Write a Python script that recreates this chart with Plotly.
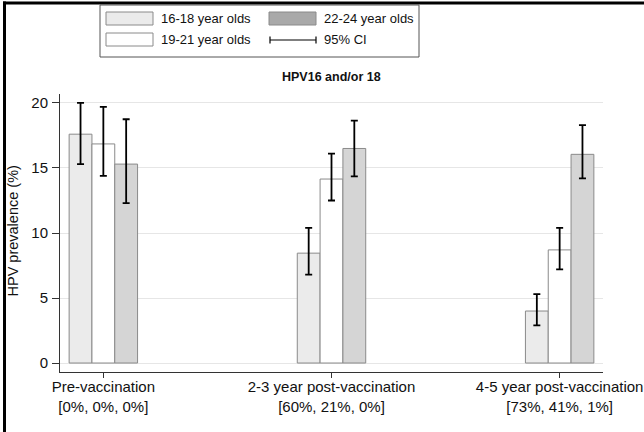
import plotly.graph_objects as go

# ---- data ----
periods = ["Pre-vaccination", "2-3 year post-vaccination", "4-5 year post-vaccination"]
coverage = ["[0%, 0%, 0%]", "[60%, 21%, 0%]", "[73%, 41%, 1%]"]
series_names = ["16-18 year olds", "19-21 year olds", "22-24 year olds"]

prev_16_18 = [17.6, 8.45, 4.0]
lo_16_18 = [15.3, 6.8, 2.9]
hi_16_18 = [20.0, 10.4, 5.3]

prev_19_21 = [16.85, 14.15, 8.7]
lo_19_21 = [14.4, 12.5, 7.2]
hi_19_21 = [19.7, 16.1, 10.4]

prev_22_24 = [15.3, 16.5, 16.05]
lo_22_24 = [12.3, 14.35, 14.2]
hi_22_24 = [18.75, 18.65, 18.3]

y_ticks = [0, 5, 10, 15, 20]

# ---- styling ----
FONT = "Liberation Sans, Arial, sans-serif"
fills = ["#ebebeb", "#ffffff", "#d5d5d5"]
legend_fills = ["#ebebeb", "#ffffff", "#a9a9a9"]
outline = "#8a8a8a"

W, H = 644, 432
L, R, T, B = 60, 603, 94, 372

def px(x):
    return (x - L) / (R - L)

def py(y):
    return (B - y) / (B - T)

categories = [f"{p}<br>{c}" for p, c in zip(periods, coverage)]

fig = go.Figure()
for name, vals, lo, hi, col in [
    (series_names[0], prev_16_18, lo_16_18, hi_16_18, fills[0]),
    (series_names[1], prev_19_21, lo_19_21, hi_19_21, fills[1]),
    (series_names[2], prev_22_24, lo_22_24, hi_22_24, fills[2]),
]:
    fig.add_trace(go.Bar(
        name=name, x=categories, y=vals,
        marker=dict(color=col, line=dict(color=outline, width=1)),
        error_y=dict(type="data", symmetric=False,
                     array=[h - v for h, v in zip(hi, vals)],
                     arrayminus=[v - l for v, l in zip(vals, lo)],
                     color="black", thickness=1.8, width=3.5),
        showlegend=False,
    ))

shapes = []
annotations = []

# outer frame (top and left)
shapes.append(dict(type="line", xref="paper", yref="paper",
                   x0=px(3), x1=px(W), y0=py(3), y1=py(3),
                   line=dict(color="black", width=3)))
shapes.append(dict(type="line", xref="paper", yref="paper",
                   x0=px(4.5), x1=px(4.5), y0=py(1.5), y1=py(H),
                   line=dict(color="black", width=3)))

# legend box
shapes.append(dict(type="rect", xref="paper", yref="paper",
                   x0=px(100), x1=px(419), y0=py(5), y1=py(57),
                   line=dict(color="#555555", width=1), fillcolor="white"))
leg_items = [
    (106, 12, legend_fills[0], series_names[0]),
    (106, 33, legend_fills[1], series_names[1]),
    (269, 12, legend_fills[2], series_names[2]),
]
for x0, y0, col, txt in leg_items:
    shapes.append(dict(type="rect", xref="paper", yref="paper",
                       x0=px(x0), x1=px(x0 + 47), y0=py(y0), y1=py(y0 + 13),
                       line=dict(color=outline, width=1), fillcolor=col))
    annotations.append(dict(xref="paper", yref="paper", x=px(x0 + 53), y=py(y0 + 6.5),
                            text=txt, showarrow=False, xanchor="left", yanchor="middle",
                            font=dict(family=FONT, size=13, color="#111")))
# CI legend symbol
shapes.append(dict(type="line", xref="paper", yref="paper",
                   x0=px(270), x1=px(316), y0=py(40), y1=py(40),
                   line=dict(color="black", width=1.2)))
for xx in (270, 316):
    shapes.append(dict(type="line", xref="paper", yref="paper",
                       x0=px(xx), x1=px(xx), y0=py(36.5), y1=py(43.5),
                       line=dict(color="black", width=1.2)))
annotations.append(dict(xref="paper", yref="paper", x=px(322), y=py(39.5),
                        text="95% CI", showarrow=False, xanchor="left", yanchor="middle",
                        font=dict(family=FONT, size=13, color="#111")))

# title
annotations.append(dict(xref="paper", yref="paper", x=px(331), y=py(77),
                        text="<b>HPV16 and/or 18</b>", showarrow=False,
                        xanchor="center", yanchor="middle",
                        font=dict(family=FONT, size=12.5, color="#111")))

# y-axis title
annotations.append(dict(xref="paper", yref="paper", x=px(12.5), y=py(231),
                        text="HPV prevalence (%)", showarrow=False, textangle=-90,
                        xanchor="center", yanchor="middle",
                        font=dict(family=FONT, size=14.5, color="#111")))

fig.update_layout(
    width=W, height=H,
    margin=dict(l=L, r=W - R, t=T, b=H - B, pad=0, autoexpand=False),
    paper_bgcolor="white", plot_bgcolor="white",
    barmode="group", bargap=0.7, bargroupgap=0,
    font=dict(family=FONT, size=15, color="#111"),
    shapes=shapes, annotations=annotations,
    xaxis=dict(range=[-0.19, 2.19], showline=True, linecolor="#333", linewidth=1,
               ticks="outside", ticklen=5, tickcolor="#333", showgrid=False,
               automargin=False,
               tickfont=dict(family=FONT, size=15, color="#111"), ticklabelstandoff=-4),
    yaxis=dict(range=[-0.69, 20.69], tickvals=y_ticks, showline=True, linecolor="#333",
               linewidth=1, ticks="outside", ticklen=7, tickcolor="#333",
               showgrid=True, gridcolor="#e6e6e6", gridwidth=1, zeroline=False,
               automargin=False,
               tickfont=dict(family=FONT, size=15, color="#111"), ticklabelstandoff=1),
)

fig.write_html("out.html", config={"displayModeBar": False},
               post_script="document.body.style.margin='0';document.body.style.overflow='hidden';")
